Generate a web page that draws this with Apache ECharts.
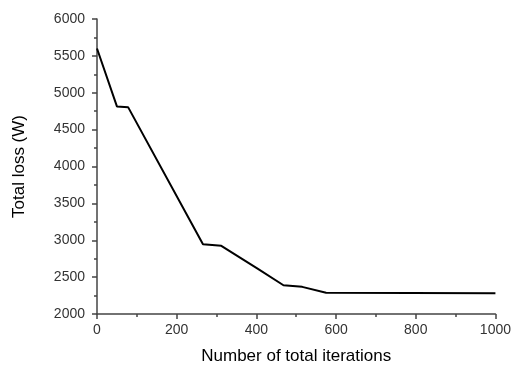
<!DOCTYPE html>
<html>
<head>
<meta charset="utf-8">
<script src="https://cdn.jsdelivr.net/npm/echarts@6/dist/echarts.min.js"></script>
<style>
  html, body { margin: 0; padding: 0; background: #fff; }
  #chart { width: 514px; height: 374px; }
</style>
</head>
<body>
<div id="chart"></div>
<script>
// Total loss against number of total iterations
const iterations = [0, 50, 78, 266, 312, 403, 468, 515, 575, 1000];
const totalLoss = [5600, 4815, 4805, 2945, 2925, 2615, 2390, 2368, 2288, 2282];

const xTicks = { min: 0, max: 1000, interval: 200 };
const yTicks = { min: 2000, max: 6000, interval: 500 };

const points = iterations.map((x, i) => [x, totalLoss[i]]);

const axisColor = '#444';
const plain = v => String(v);
const labelStyle = { color: '#333', fontSize: 14, fontFamily: 'Liberation Sans, Arial, sans-serif', formatter: plain };
const nameStyle = { color: '#000', fontSize: 17, fontFamily: 'Liberation Sans, Arial, sans-serif' };

const chart = echarts.init(document.getElementById('chart'), null, { renderer: 'canvas' });
chart.setOption({
  animation: false,
  grid: { left: 97, right: 17, top: 19, bottom: 60, containLabel: false },
  xAxis: {
    type: 'value',
    min: xTicks.min, max: xTicks.max, interval: xTicks.interval,
    name: 'Number of total iterations',
    nameLocation: 'middle',
    nameGap: 34,
    nameTextStyle: nameStyle,
    axisLine: { show: true, onZero: false, lineStyle: { color: axisColor, width: 1.5 } },
    axisTick: { show: true, length: 5, lineStyle: { color: axisColor, width: 1.5 } },
    minorTick: { show: true, splitNumber: 2, length: 3, lineStyle: { color: axisColor, width: 1.5 } },
    axisLabel: Object.assign({ margin: 9 }, labelStyle),
    splitLine: { show: false }
  },
  yAxis: {
    type: 'value',
    min: yTicks.min, max: yTicks.max, interval: yTicks.interval,
    name: 'Total loss (W)',
    nameLocation: 'middle',
    nameGap: 69,
    nameTextStyle: nameStyle,
    axisLine: { show: true, lineStyle: { color: axisColor, width: 1.5 } },
    axisTick: { show: true, length: 5, lineStyle: { color: axisColor, width: 1.5 } },
    minorTick: { show: true, splitNumber: 2, length: 3, lineStyle: { color: axisColor, width: 1.5 } },
    axisLabel: Object.assign({ margin: 12 }, labelStyle),
    splitLine: { show: false }
  },
  series: [{
    type: 'line',
    data: points,
    symbol: 'none',
    lineStyle: { color: '#000', width: 2 }
  }]
});
</script>
</body>
</html>
